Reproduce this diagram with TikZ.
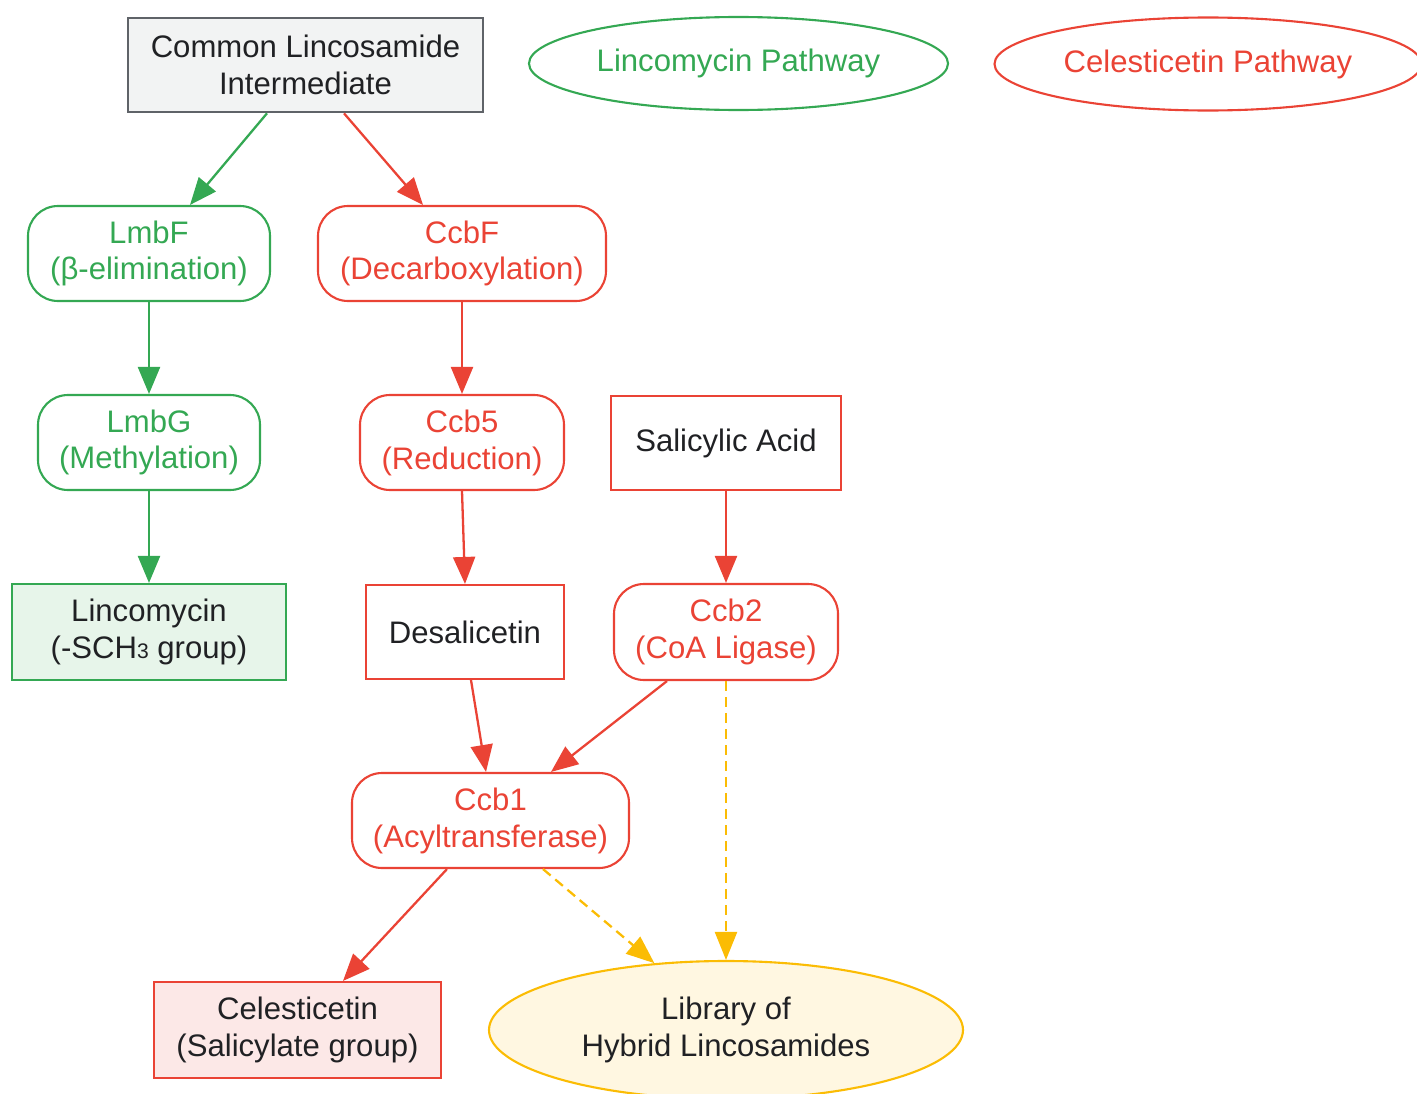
\documentclass[tikz,border=0pt]{standalone}
\usepackage{fontspec}
\setmainfont{Liberation Sans}
\usetikzlibrary{shapes.geometric, arrows.meta}

\definecolor{lincgreen}{HTML}{34A853}
\definecolor{celred}{HTML}{EA4335}
\definecolor{libyellow}{HTML}{FBBC04}
\definecolor{boxgray}{HTML}{5F6368}
\definecolor{inkdark}{HTML}{202124}

\begin{document}
\begin{tikzpicture}[
    font=\fontsize{17.7}{21}\selectfont,
    base/.style={align=center, line width=1.2pt, inner sep=0pt, text=inkdark},
    greenstep/.style={base, draw=lincgreen, text=lincgreen, rounded corners=0.6cm, minimum height=1.9cm},
    redstep/.style={base, draw=celred, text=celred, rounded corners=0.6cm, minimum height=1.9cm},
    redbox/.style={base, draw=celred, minimum height=1.88cm},
    legend/.style={base, ellipse, minimum height=1.86cm},
    greenarrow/.style={-{Triangle[length=0.54cm, width=0.44cm]}, line width=1.3pt, draw=lincgreen},
    redarrow/.style={-{Triangle[length=0.54cm, width=0.44cm]}, line width=1.3pt, draw=celred},
    hybridarrow/.style={-{Triangle[length=0.56cm, width=0.44cm]}, line width=1.3pt, draw=libyellow, dash pattern=on 0.2cm off 0.12cm}
]
    \useasboundingbox (0, 0) rectangle (28.34, -21.88);

    %Nodes
    \node[base, draw=boxgray, fill=boxgray!8, line width=1.5pt, minimum width=7.1cm, minimum height=1.88cm] at (6.11, -1.3) (common) {Common Lincosamide\\Intermediate};
    \node[legend, draw=lincgreen, text=lincgreen, minimum width=8.38cm] at (14.77, -1.27) (lincleg) {Lincomycin Pathway};
    \node[legend, draw=celred, text=celred, minimum width=8.54cm] at (24.16, -1.28) (celleg) {Celesticetin Pathway};

    \node[greenstep, minimum width=4.84cm] at (2.98, -5.07) (lmbf) {LmbF\\(β-elimination)};
    \node[redstep, minimum width=5.76cm] at (9.24, -5.07) (ccbf) {CcbF\\(Decarboxylation)};

    \node[greenstep, minimum width=4.44cm] at (2.98, -8.85) (lmbg) {LmbG\\(Methylation)};
    \node[redstep, minimum width=4.08cm] at (9.24, -8.85) (ccb5) {Ccb5\\(Reduction)};
    \node[redbox, minimum width=4.6cm] at (14.52, -8.86) (salic) {Salicylic Acid};

    \node[base, draw=lincgreen, fill=lincgreen!12, minimum width=5.48cm, minimum height=1.92cm] at (2.98, -12.64) (lincomycin) {Lincomycin\\(-SCH{\fontsize{12}{12}\selectfont 3} group)};
    \node[redbox, minimum width=3.96cm] at (9.30, -12.64) (desal) {Desalicetin};
    \node[redstep, minimum width=4.48cm, minimum height=1.92cm] at (14.52, -12.64) (ccb2) {Ccb2\\(CoA Ligase)};

    \node[redstep, minimum width=5.54cm] at (9.81, -16.41) (ccb1) {Ccb1\\(Acyltransferase)};

    \node[base, draw=celred, fill=celred!12, minimum width=5.74cm, minimum height=1.92cm] at (5.95, -20.6) (celest) {Celesticetin\\(Salicylate group)};
    \node[base, ellipse, draw=libyellow, fill=libyellow!12, minimum width=9.48cm, minimum height=2.76cm] at (14.52, -20.6) (library) {Library of\\Hybrid Lincosamides};

    %Lines
    \draw[greenarrow] ([xshift=-0.77cm]common.south) -- ([xshift=0.82cm]lmbf.north);
    \draw[redarrow] ([xshift=0.77cm]common.south) -- ([xshift=-0.78cm]ccbf.north);
    \draw[greenarrow] (lmbf) -- (lmbg);
    \draw[redarrow] (ccbf) -- (ccb5);
    \draw[greenarrow] (lmbg) -- (lincomycin);
    \draw[redarrow] (ccb5.south) -- (desal.north);
    \draw[redarrow] (salic) -- (ccb2);
    \draw[redarrow] ([xshift=0.12cm]desal.south) -- ([xshift=-0.09cm]ccb1.north);
    \draw[redarrow] ([xshift=-1.18cm]ccb2.south) -- ([xshift=1.21cm]ccb1.north);
    \draw[hybridarrow] (ccb2.south) -- (library.north);
    \draw[hybridarrow] ([xshift=1.05cm]ccb1.south) -- (library.137);
    \draw[redarrow] ([xshift=-0.87cm]ccb1.south) -- ([xshift=0.91cm]celest.north);

\end{tikzpicture}
\end{document}
